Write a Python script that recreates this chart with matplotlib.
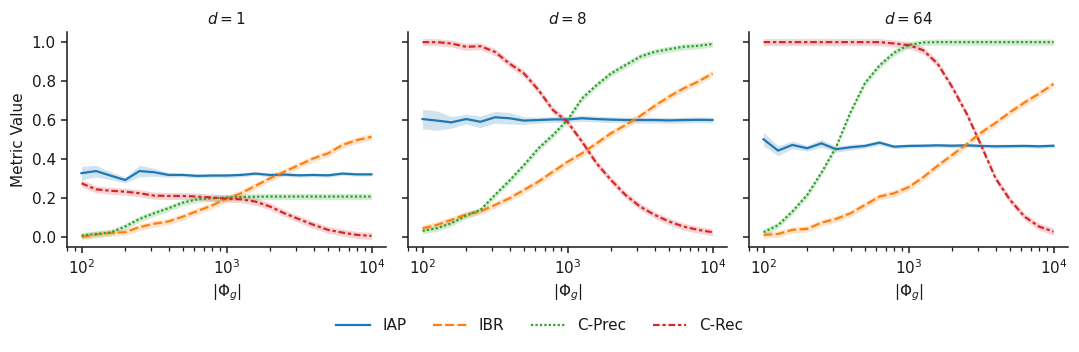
import matplotlib
matplotlib.use("Agg")
import matplotlib.pyplot as plt
import numpy as np
from matplotlib.lines import Line2D

# ---- data ----
phi_g = [100, 126, 158, 200, 251, 316, 398, 501, 631, 794, 1000,
         1259, 1585, 1995, 2512, 3162, 3981, 5012, 6310, 7943, 10000]

panels = ["$d = 1$", "$d = 8$", "$d = 64$"]
metrics = ["IAP", "IBR", "C-Prec", "C-Rec"]

iap_d1 = [0.327, 0.338, 0.315, 0.292, 0.338, 0.332, 0.318, 0.318, 0.313, 0.315, 0.315,
          0.318, 0.325, 0.318, 0.320, 0.316, 0.318, 0.316, 0.325, 0.321, 0.321]
ibr_d1 = [0.000, 0.012, 0.020, 0.024, 0.050, 0.067, 0.079, 0.104, 0.133, 0.161, 0.196,
          0.224, 0.262, 0.301, 0.335, 0.369, 0.403, 0.429, 0.472, 0.497, 0.514]
cprec_d1 = [0.007, 0.015, 0.022, 0.053, 0.092, 0.121, 0.147, 0.176, 0.193, 0.198, 0.202,
            0.205, 0.206, 0.207, 0.207, 0.207, 0.207, 0.207, 0.207, 0.207, 0.207]
crec_d1 = [0.275, 0.244, 0.237, 0.232, 0.224, 0.212, 0.210, 0.210, 0.207, 0.202, 0.196,
           0.193, 0.181, 0.156, 0.121, 0.091, 0.062, 0.036, 0.022, 0.010, 0.005]

iap_d8 = [0.605, 0.597, 0.588, 0.605, 0.591, 0.614, 0.609, 0.597, 0.600, 0.603, 0.603,
          0.609, 0.605, 0.602, 0.600, 0.600, 0.600, 0.598, 0.600, 0.601, 0.600]
ibr_d8 = [0.044, 0.062, 0.087, 0.116, 0.130, 0.164, 0.198, 0.241, 0.284, 0.335, 0.385,
          0.429, 0.480, 0.532, 0.574, 0.620, 0.672, 0.720, 0.762, 0.797, 0.839]
cprec_d8 = [0.031, 0.044, 0.070, 0.109, 0.138, 0.215, 0.289, 0.369, 0.455, 0.523, 0.600,
            0.711, 0.779, 0.839, 0.882, 0.925, 0.950, 0.964, 0.976, 0.981, 0.990]
crec_d8 = [1.000, 1.000, 0.993, 0.976, 0.979, 0.950, 0.890, 0.839, 0.754, 0.651, 0.590,
           0.489, 0.378, 0.292, 0.215, 0.156, 0.113, 0.079, 0.053, 0.036, 0.024]

iap_d64 = [0.501, 0.443, 0.472, 0.455, 0.480, 0.450, 0.460, 0.467, 0.484, 0.463, 0.467,
           0.468, 0.470, 0.468, 0.470, 0.467, 0.465, 0.466, 0.467, 0.465, 0.468]
ibr_d64 = [0.010, 0.015, 0.036, 0.041, 0.073, 0.092, 0.121, 0.164, 0.207, 0.224, 0.255,
           0.305, 0.365, 0.420, 0.475, 0.535, 0.585, 0.640, 0.690, 0.735, 0.785]
cprec_d64 = [0.024, 0.060, 0.130, 0.215, 0.330, 0.460, 0.640, 0.790, 0.880, 0.945, 0.985,
             0.998, 1.000, 1.000, 1.000, 1.000, 1.000, 1.000, 1.000, 1.000, 1.000]
crec_d64 = [1.000, 1.000, 1.000, 1.000, 1.000, 1.000, 1.000, 1.000, 1.000, 0.993, 0.985,
            0.959, 0.890, 0.771, 0.634, 0.472, 0.301, 0.190, 0.104, 0.053, 0.027]

# confidence band half-widths
iap_ci_d1 = [0.035, 0.030, 0.020, 0.015, 0.030, 0.020, 0.012, 0.010, 0.010, 0.010, 0.010,
             0.010, 0.009, 0.009, 0.009, 0.009, 0.009, 0.009, 0.009, 0.009, 0.009]
iap_ci_d8 = [0.050, 0.050, 0.030, 0.025, 0.030, 0.030, 0.030, 0.020, 0.015, 0.015, 0.015,
             0.015, 0.015, 0.015, 0.015, 0.015, 0.015, 0.015, 0.015, 0.015, 0.015]
iap_ci_d64 = [0.035, 0.025, 0.020, 0.015, 0.020, 0.015, 0.015, 0.012, 0.012, 0.010, 0.010,
              0.010, 0.010, 0.010, 0.010, 0.010, 0.010, 0.010, 0.010, 0.010, 0.010]
other_ci = {"IBR": 0.017, "C-Prec": 0.016, "C-Rec": 0.018}

data = [
    {"IAP": iap_d1, "IBR": ibr_d1, "C-Prec": cprec_d1, "C-Rec": crec_d1, "ci": iap_ci_d1},
    {"IAP": iap_d8, "IBR": ibr_d8, "C-Prec": cprec_d8, "C-Rec": crec_d8, "ci": iap_ci_d8},
    {"IAP": iap_d64, "IBR": ibr_d64, "C-Prec": cprec_d64, "C-Rec": crec_d64, "ci": iap_ci_d64},
]

# ---- style ----
colors = {"IAP": "#1f77b4", "IBR": "#ff7f0e", "C-Prec": "#2ca02c", "C-Rec": "#d62728"}
dashes = {"IAP": None, "IBR": (4, 1.5), "C-Prec": (1, 1), "C-Rec": (3, 1.25, 1.5, 1.25)}
LW = 1.6
dark = "#1a1a1a"

plt.rcParams.update({
    "font.family": "DejaVu Sans",
    "axes.edgecolor": dark,
    "axes.labelcolor": dark,
    "text.color": dark,
    "xtick.color": dark,
    "ytick.color": dark,
    "axes.linewidth": 1.1,
})

fig = plt.figure(figsize=(10.79, 3.52), dpi=100)
W, H = 1079, 352
lefts = [67, 408, 749]
axw = 319
top, bottom = 32, 247
axes = []
for i, l in enumerate(lefts):
    ax = fig.add_axes([l / W, 1 - bottom / H, axw / W, (bottom - top) / H],
                      sharey=axes[0] if axes else None)
    axes.append(ax)

x = np.array(phi_g, dtype=float)
for i, ax in enumerate(axes):
    d = data[i]
    for m in metrics:
        y = np.array(d[m])
        e = np.array(d["ci"]) if m == "IAP" else other_ci[m]
        ax.fill_between(x, y - e, y + e, color=colors[m], alpha=0.2, linewidth=0)
        ln, = ax.plot(x, y, color=colors[m], lw=LW, label=m)
        if dashes[m] is not None:
            ln.set_dashes(dashes[m])
    ax.set_xscale("log")
    ax.set_title(panels[i], fontsize=11)
    ax.set_xlabel(r"$|\Phi_g|$", fontsize=11)
    for s in ["top", "right"]:
        ax.spines[s].set_visible(False)
    ax.tick_params(axis="both", which="major", labelsize=11, length=4.5, width=1.1)
    ax.tick_params(axis="x", which="minor", length=3, width=0.9)
    if i > 0:
        ax.tick_params(axis="y", labelleft=False)

axes[0].set_ylabel("Metric Value", fontsize=11)
axes[0].set_yticks([0.0, 0.2, 0.4, 0.6, 0.8, 1.0])
axes[0].set_ylim(-0.052, 1.052)
for ax in axes:
    ax.set_xlim(10 ** (2 - 0.1), 10 ** (4 + 0.1))

handles = []
for m in metrics:
    h = Line2D([0], [0], color=colors[m], lw=LW)
    if dashes[m] is not None:
        h.set_dashes(dashes[m])
    handles.append(h)
fig.legend(handles, metrics, loc="center", bbox_to_anchor=(0.5, 1 - 326 / H),
           ncol=4, frameon=False, fontsize=11, handlelength=2.2,
           columnspacing=1.75, handletextpad=0.8)

fig.savefig("out.png", dpi=100)
